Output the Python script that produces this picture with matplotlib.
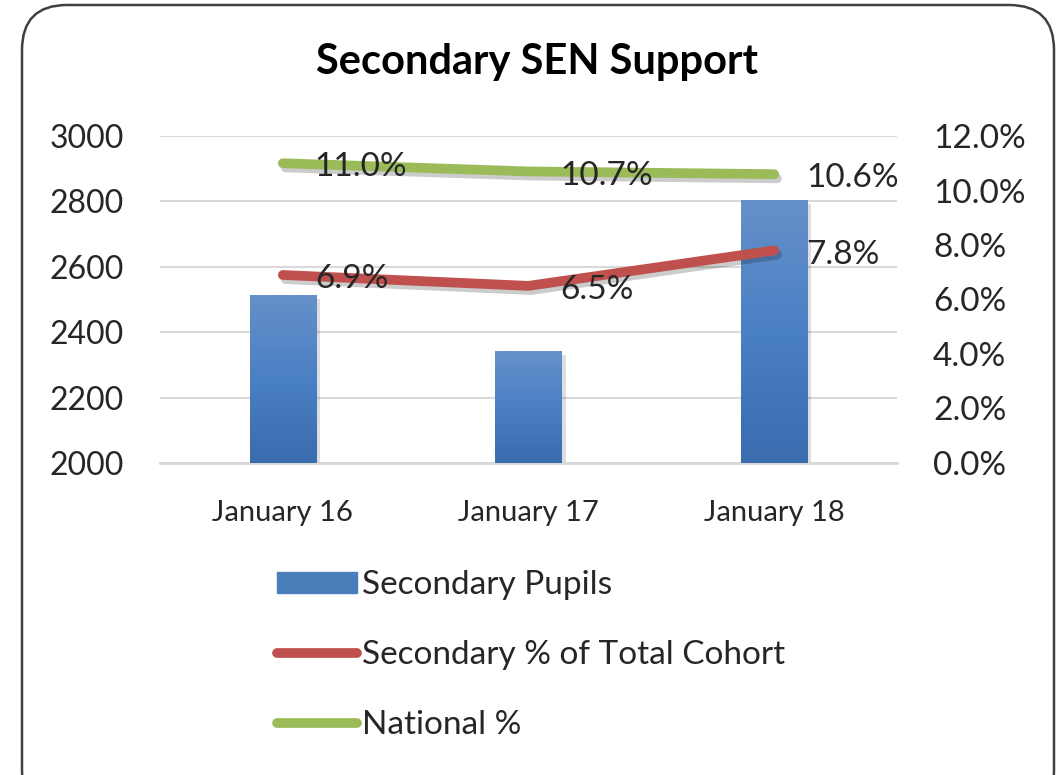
import matplotlib
matplotlib.use('Agg')
import matplotlib.pyplot as plt
import matplotlib.patheffects as pe
from matplotlib.patches import FancyBboxPatch, Patch
from matplotlib.lines import Line2D
from matplotlib.colors import LinearSegmentedColormap
import numpy as np

# chart data
categories = ['January 16', 'January 17', 'January 18']
secondary_pupils = [2511, 2340, 2802]
secondary_pct = [6.9, 6.5, 7.8]
national_pct = [11.0, 10.7, 10.6]

left_ticks = [2000, 2200, 2400, 2600, 2800, 3000]
right_ticks = [0, 2, 4, 6, 8, 10, 12]

plt.rcParams['font.family'] = ['Lato', 'DejaVu Sans']

BLUE = '#4a7ebb'
RED = '#c0504d'
GREEN = '#9bbb59'
TXT = '#262626'

fig = plt.figure(figsize=(10.61, 7.75), dpi=100)
fig.patch.set_facecolor('white')

# rounded chart border (bottom runs off the picture)
border = FancyBboxPatch((22, -40), 1032, 810, transform=None,
                        boxstyle='round,pad=0,rounding_size=45',
                        facecolor='none', edgecolor='#404040', linewidth=1.8)
fig.patches.append(border)

ax = fig.add_axes([0.1508, 0.4026, 0.6946, 0.4219])
ax2 = ax.twinx()

x = np.arange(len(categories))
bar_w = 0.27

# gradient bars
grad = LinearSegmentedColormap.from_list('bar', ['#3a6cae', '#4a80c4', '#6690c9'])
shadow = [pe.SimplePatchShadow(offset=(3, -2), alpha=0.15), pe.Normal()]
for xi, val in zip(x, secondary_pupils):
    ax.bar(xi, val - 2000, bottom=2000, width=bar_w, color=BLUE,
           zorder=2, path_effects=shadow)
    img = np.linspace(0, 1, 100).reshape(-1, 1)
    ax.imshow(img, extent=(xi - bar_w / 2, xi + bar_w / 2, 2000, val),
              origin='lower', aspect='auto', cmap=grad, zorder=3)

ax.set_xlim(-0.5, 2.5)
ax.set_ylim(2000, 3000)
ax.set_yticks(left_ticks)
ax.set_xticks(x)
ax.set_xticklabels(categories, fontsize=21, color=TXT)
ax.tick_params(axis='y', labelsize=23, length=0, pad=26, colors=TXT)
ax.tick_params(axis='x', length=0, pad=27)
ax.yaxis.grid(True, color='#d9d9d9', linewidth=1.5, zorder=0)
ax.set_axisbelow(True)
for s in ['top', 'left', 'right']:
    ax.spines[s].set_visible(False)
ax.spines['bottom'].set_color('#d9d9d9')
ax.spines['bottom'].set_linewidth(2)

line_fx = [pe.SimpleLineShadow(offset=(2, -3), alpha=0.2), pe.Normal()]
ax2.plot(x, secondary_pct, color=RED, lw=7, solid_capstyle='round',
         solid_joinstyle='round', path_effects=line_fx, zorder=4)
ax2.plot(x, national_pct, color=GREEN, lw=7, solid_capstyle='round',
         solid_joinstyle='round', path_effects=line_fx, zorder=4)
for xi, v in zip(x, secondary_pct):
    ax2.annotate(f'{v:.1f}%', (xi, v), xytext=(23, -3), textcoords='offset points',
                 fontsize=24, va='center', ha='left', color=TXT, zorder=5)
for xi, v in zip(x, national_pct):
    ax2.annotate(f'{v:.1f}%', (xi, v), xytext=(23, -3), textcoords='offset points',
                 fontsize=24, va='center', ha='left', color=TXT, zorder=5)

ax2.set_ylim(0, 12)
ax2.set_yticks(right_ticks)
ax2.set_yticklabels([f'{t:.1f}%' for t in right_ticks])
ax2.tick_params(axis='y', labelsize=24, length=0, pad=26, colors=TXT)
for s in ax2.spines.values():
    s.set_visible(False)

fig.text(0.506, 0.920, 'Secondary SEN Support', fontsize=30, fontweight='bold',
         ha='center', va='center', color='black')

handles = [Patch(facecolor=BLUE, edgecolor=BLUE),
           Line2D([], [], color=RED, lw=7, solid_capstyle='round'),
           Line2D([], [], color=GREEN, lw=7, solid_capstyle='round')]
labels = ['Secondary Pupils', 'Secondary % of Total Cohort', 'National %']
fig.legend(handles, labels, loc='upper left', bbox_to_anchor=(0.245, 0.286),
           frameon=False, fontsize=24, handlelength=2.4, handleheight=0.6,
           handletextpad=0.15, labelspacing=1.2, borderpad=0, labelcolor=TXT)

fig.savefig('out.png', dpi=100)
